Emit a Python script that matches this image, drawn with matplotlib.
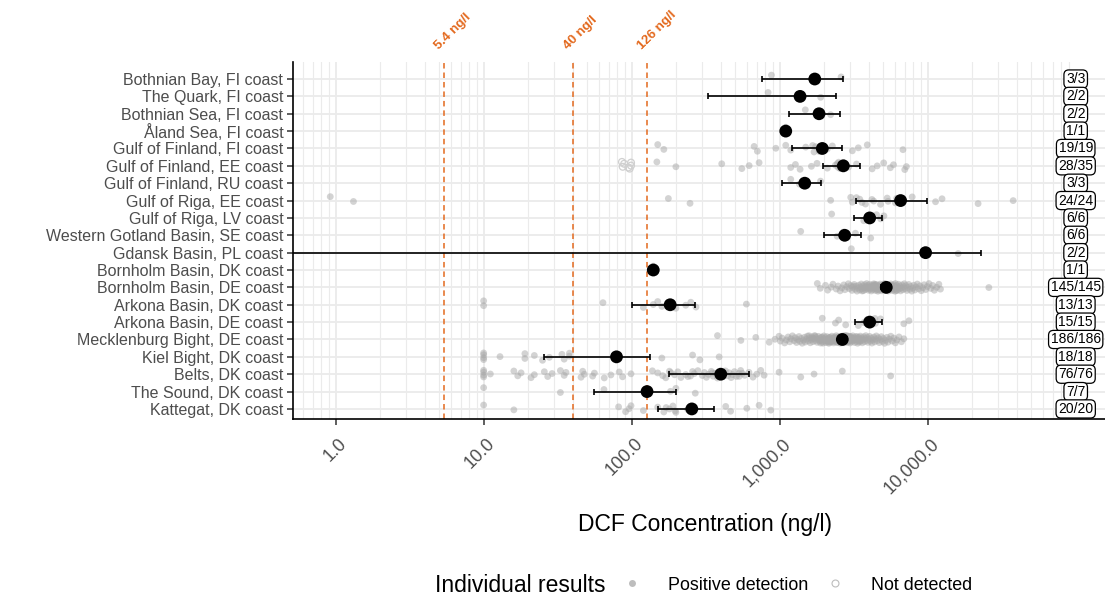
import numpy as np
import matplotlib.pyplot as plt
from matplotlib.lines import Line2D
from matplotlib.ticker import FixedLocator, FixedFormatter, LogLocator, NullFormatter
from matplotlib.transforms import ScaledTranslation

plt.rcParams['font.family'] = ['Liberation Sans', 'DejaVu Sans']

# regions, top to bottom
regions = ["Bothnian Bay, FI coast", "The Quark, FI coast", "Bothnian Sea, FI coast",
           "Åland Sea, FI coast", "Gulf of Finland, FI coast", "Gulf of Finland, EE coast",
           "Gulf of Finland, RU coast", "Gulf of Riga, EE coast", "Gulf of Riga, LV coast",
           "Western Gotland Basin, SE coast", "Gdansk Basin, PL coast", "Bornholm Basin, DK coast",
           "Bornholm Basin, DE coast", "Arkona Basin, DK coast", "Arkona Basin, DE coast",
           "Mecklenburg Bight, DE coast", "Kiel Bight, DK coast", "Belts, DK coast",
           "The Sound, DK coast", "Kattegat, DK coast"]

mean_conc = [1726, 1373, 1845, 1099, 1941, 2692, 1477, 6560, 4055, 2750,
             9680, 140, 5250, 182, 4055, 2650, 79, 400, 127, 255]
ci_low = [764, 330, 1157, np.nan, 1219, 1963, 1033, 3260, 3177, 1994,
          0.001, np.nan, 4850, 101, 3228, 2480, 25.5, 180, 56, 150]
ci_high = [2690, 2392, 2557, np.nan, 2650, 3490, 1909, 9930, 4930, 3557,
           22850, np.nan, 5680, 267, 4886, 2830, 133, 621, 199, 361]
n_labels = ["3/3", "2/2", "2/2", "1/1", "19/19", "28/35", "3/3", "24/24", "6/6", "6/6",
            "2/2", "1/1", "145/145", "13/13", "15/15", "186/186", "18/18", "76/76", "7/7", "20/20"]

thresholds = [5.4, 40, 126]
threshold_labels = ["5.4 ng/l", "40 ng/l", "126 ng/l"]

# individual positive results per region
bothnian_bay = [880, 1700, 2600]
the_quark = [835, 1893]
bothnian_sea = [1490, 2210]
aland_sea = [1099]
gof_fi = [150, 165, 672, 707, 942, 1099, 1188, 1500, 1707, 2099, 2270, 3097, 3398, 3908, 6807,
          1750, 1850, 1900, 1670]
gof_ee = [148, 199, 406, 555, 622, 726, 1188, 1278, 1374, 1639, 1788, 2099, 2380, 2503, 2921,
          3306, 4215, 4559, 5044, 5593, 5875, 7000, 7180, 2450, 2550, 2600, 2700, 2480]
gof_ru = [1188, 1360, 1888]
gor_ee = [0.92, 1.32, 177, 248, 2210, 3020, 3097, 3476, 3800, 4318, 5325, 6056, 6879, 7860,
          11300, 12500, 21900, 37800, 3300, 3600, 4200, 4800, 5400, 6170]
gor_lv = [2245, 4810, 5060, 3700, 4000, 4515]
w_gotland = [1387, 2445, 3250, 4120, 2600, 2700]
gdansk = [3048, 16070]
bornholm_dk = [140]
bornholm_de = [1796, 1880, 2040, 2110, 2230, 2290, 2410, 2480, 2560, 2630,
               2710, 2760, 2840, 2910, 2950, 3020, 3080, 3110, 3190, 3240,
               3290, 3330, 3380, 3420, 3470, 3510, 3560, 3590, 3640, 3680,
               3720, 3760, 3790, 3830, 3870, 3900, 3940, 3980, 4010, 4050,
               4090, 4120, 4160, 4190, 4230, 4260, 4300, 4330, 4370, 4400,
               4440, 4470, 4510, 4540, 4580, 4610, 4650, 4690, 4720, 4760,
               4790, 4830, 4870, 4900, 4940, 4980, 5010, 5050, 5090, 5130,
               5170, 5210, 5250, 5290, 5330, 5380, 5420, 5460, 5510, 5550,
               5600, 5640, 5690, 5740, 5790, 5840, 5890, 5940, 6000, 6050,
               6110, 6170, 6230, 6290, 6350, 6420, 6490, 6560, 6630, 6710,
               6790, 6870, 6960, 7050, 7140, 7240, 7340, 7450, 7560, 7680,
               7800, 7930, 8060, 8200, 8350, 8510, 8680, 8860, 9050, 9250,
               9470, 9700, 9950, 10200, 10500, 10800, 11100, 11500, 11900, 12200,
               3150, 3610, 3970, 4350, 4620, 4880, 5200, 5480, 5820, 6140,
               25900, 4420, 4960, 5360, 6020]
arkona_dk = [10, 10, 64, 120, 140, 150, 160, 184, 199, 232, 251, 272, 596]
arkona_de = [1941, 2380, 2503, 2793, 3800, 4800, 6900, 7470, 3400, 3700, 3900, 4100, 4300,
             4400, 4440]
mecklenburg = [380, 547, 690, 850, 930, 990, 1010, 1040, 1080, 1110,
               1140, 1170, 1190, 1220, 1250, 1270, 1300, 1320, 1350, 1370,
               1400, 1420, 1450, 1470, 1490, 1520, 1540, 1560, 1590, 1610,
               1630, 1650, 1680, 1700, 1720, 1740, 1760, 1790, 1810, 1830,
               1850, 1870, 1890, 1910, 1930, 1950, 1970, 1990, 2010, 2030,
               2050, 2070, 2090, 2110, 2130, 2150, 2170, 2190, 2210, 2230,
               2250, 2270, 2290, 2310, 2330, 2350, 2370, 2390, 2410, 2430,
               2450, 2470, 2490, 2510, 2530, 2550, 2570, 2590, 2610, 2630,
               2650, 2670, 2690, 2710, 2730, 2750, 2770, 2790, 2810, 2830,
               2850, 2870, 2890, 2910, 2930, 2950, 2970, 2990, 3010, 3030,
               3060, 3090, 3120, 3150, 3180, 3210, 3240, 3270, 3300, 3330,
               3360, 3390, 3420, 3450, 3480, 3510, 3540, 3580, 3620, 3660,
               3700, 3740, 3780, 3820, 3860, 3900, 3950, 4000, 4050, 4100,
               4150, 4200, 4260, 4320, 4380, 4440, 4500, 4570, 4640, 4710,
               4780, 4860, 4940, 5020, 5110, 5200, 5300, 5400, 5510, 5630,
               5760, 5900, 6050, 6200, 6400, 6650, 6900, 1580, 1880, 2160,
               2440, 2720, 3000, 2280, 2520, 1960, 2360, 2600, 2840, 3160,
               1740, 2060, 2380, 2660, 2980, 3340, 2200, 2480, 2760, 3040,
               1920, 2140, 2620, 2900, 3460, 1660]
kiel = [10, 10, 10, 10, 12.9, 19, 19, 22, 25, 27.8, 33.8, 35, 37.9, 38, 160, 258, 289, 390]
belts = [10, 10, 10, 10, 11.1, 16, 17, 17.9, 20.9, 22, 25.7, 27.1, 29, 33, 35, 36, 45.5, 47.9,
         46.7, 54.5, 56, 65.3, 72.4, 82.4, 86.8, 99, 138, 162, 184, 215, 232, 258, 532, 560,
         745, 785, 991, 1388, 1707, 2650, 5620,
         150, 170, 195, 205, 240, 265, 280, 300, 310, 320, 330, 345, 355, 365, 380, 390, 400,
         410, 420, 430, 445, 455, 470, 480, 495, 510, 530, 545, 580, 620, 660, 700, 180, 250, 350]
the_sound = [10, 33, 65, 125, 183, 199, 269]
kattegat = [10, 16, 81.6, 91, 96, 99, 120, 171, 199, 239, 432, 466, 600, 726, 871,
            150, 165, 180, 190, 197]

# results below detection limit
gof_ee_not_detected = [86, 87, 89, 97, 99, 99, 95]

positives = [bothnian_bay, the_quark, bothnian_sea, aland_sea, gof_fi, gof_ee, gof_ru, gor_ee,
             gor_lv, w_gotland, gdansk, bornholm_dk, bornholm_de, arkona_dk, arkona_de,
             mecklenburg, kiel, belts, the_sound, kattegat]

orange = '#E3691E'
grid_col = '#EBEBEB'

fig = plt.figure(figsize=(11.05, 5.95), dpi=100)
ax = fig.add_axes([293 / 1105, 176 / 595, 820 / 1105, 357 / 595])
ax.set_xscale('log')
ax.set_xlim(10 ** -0.288, 10 ** 5.252)
ax.set_ylim(19.58, -0.98)

# grid
ax.xaxis.set_major_locator(FixedLocator([1, 10, 100, 1000, 10000]))
ax.xaxis.set_major_formatter(FixedFormatter(['1.0', '10.0', '100.0', '1,000.0', '10,000.0']))
ax.xaxis.set_minor_locator(LogLocator(base=10, subs=np.arange(2, 10), numticks=20))
ax.xaxis.set_minor_formatter(NullFormatter())
ax.set_yticks(range(len(regions)))
ax.set_yticklabels(regions)
ax.grid(which='major', color=grid_col, lw=1.3, zorder=0)
ax.grid(which='minor', axis='x', color=grid_col, lw=0.8, zorder=0)
ax.set_axisbelow(True)

for s in ['top', 'right']:
    ax.spines[s].set_visible(False)
for s in ['left', 'bottom']:
    ax.spines[s].set_linewidth(1.2)
ax.tick_params(axis='x', which='minor', length=0)
ax.tick_params(axis='x', which='major', length=4.5, width=1.1, color='#333333',
               labelsize=13, labelcolor='#4D4D4D', pad=2)
ax.tick_params(axis='y', length=4, width=1.1, color='#333333', labelsize=11.5,
               labelcolor='#4D4D4D', pad=3)
plt.setp(ax.get_xticklabels(), rotation=45, ha='right', va='top', rotation_mode='anchor')
for lab in ax.get_xticklabels():
    lab.set_transform(lab.get_transform() + ScaledTranslation(2 / 72, -5 / 72, fig.dpi_scale_trans))

# threshold lines
for v, t in zip(thresholds, threshold_labels):
    ax.axvline(v, color=orange, lw=1.1, ls=(0, (3.6, 2.6)), zorder=2)
    ax.annotate(t, xy=(v, 1), xycoords=('data', 'axes fraction'), xytext=(-2, 7),
                textcoords='offset points', rotation=45, rotation_mode='anchor',
                ha='left', va='bottom', color=orange, fontsize=9.5, fontweight='bold',
                annotation_clip=False)

# individual points
for i, vals in enumerate(positives):
    n = len(vals)
    jit = ((np.arange(n) * 0.618) % 1 - 0.5) * 0.45
    ax.scatter(vals, i + jit, s=24, color='#A8A8A8', alpha=0.5, edgecolors='none', zorder=3)
nd = len(gof_ee_not_detected)
jit = ((np.arange(nd) * 0.618) % 1 - 0.5) * 0.45
ax.scatter(gof_ee_not_detected, 5 + jit, s=24, facecolors='none', edgecolors='#D0D0D0',
           linewidths=0.9, zorder=3)

# error bars and means
ys = np.arange(len(regions))
m = np.array(mean_conc, dtype=float)
lo = np.array(ci_low, dtype=float)
hi = np.array(ci_high, dtype=float)
ok = ~np.isnan(lo)
ax.errorbar(m[ok], ys[ok], xerr=[m[ok] - lo[ok], hi[ok] - m[ok]], fmt='none', ecolor='black',
            elinewidth=1.2, capsize=2, capthick=1.2, zorder=4)
ax.scatter(m, ys, s=85, color='black', edgecolors='none', zorder=5)

# sample count labels
for i, lab in enumerate(n_labels):
    ax.text(1e5, i, lab, ha='center', va='center', fontsize=10, zorder=6,
            bbox=dict(boxstyle='round,pad=0.15,rounding_size=0.35', fc='white', ec='black', lw=0.9))

fig.text(705 / 1105, 1 - 525 / 595, 'DCF Concentration (ng/l)', ha='center', va='center',
         fontsize=16.5)

# legend
fig.text(435 / 1105, 1 - 585 / 595, 'Individual results', ha='left', va='center', fontsize=16.5)
handles = [Line2D([], [], ls='none', marker='o', ms=5, mfc='#BDBDBD', mec='none'),
           Line2D([], [], ls='none', marker='o', ms=5, mfc='none', mec='#BDBDBD', mew=0.8)]
fig.legend(handles, ['Positive detection', 'Not detected'], loc='center left',
           bbox_to_anchor=(623 / 1105, 1 - 585 / 595), ncol=2, frameon=False, fontsize=12.9,
           handlelength=1, handletextpad=1.5, columnspacing=1.0, borderpad=0, borderaxespad=0)

fig.savefig('out.png', dpi=100)
